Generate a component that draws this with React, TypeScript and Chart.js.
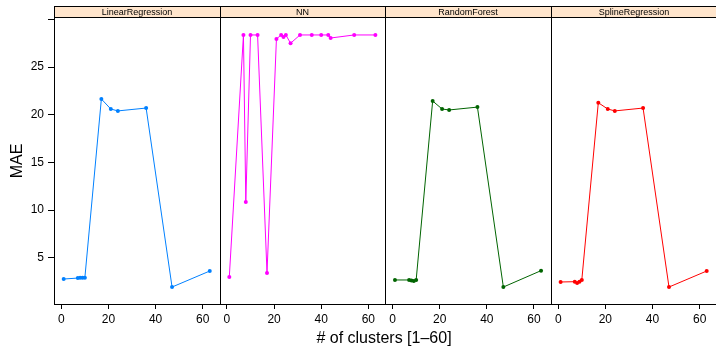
import React, { useEffect, useRef } from 'react';
import { Chart, registerables } from 'chart.js';

Chart.register(...registerables);

// ---- data ----
const panelNames = ['LinearRegression', 'NN', 'RandomForest', 'SplineRegression'];
const panelColors = ['#0080ff', '#ff00ff', '#006400', '#ff0000'];

const lrX = [1, 7, 8, 9, 10, 17, 21, 24, 36, 47, 63];
const lrY = [2.76, 2.86, 2.9, 2.9, 2.9, 21.65, 20.6, 20.4, 20.7, 1.92, 3.6];

const nnX = [1, 7, 8, 10, 13, 17, 21, 23, 24, 25, 27, 31, 36, 40, 43, 44, 54, 63];
const nnY = [2.97, 28.37, 10.84, 28.37, 28.37, 3.4, 27.95, 28.37, 28.16, 28.37, 27.5, 28.37, 28.37, 28.37, 28.37, 28.05, 28.37, 28.37];

const rfX = [1, 7, 8, 9, 10, 17, 21, 24, 36, 47, 63];
const rfY = [2.66, 2.66, 2.6, 2.55, 2.66, 21.44, 20.6, 20.5, 20.8, 1.92, 3.64];

const spX = [1, 7, 8, 9, 10, 17, 21, 24, 36, 47, 63];
const spY = [2.45, 2.48, 2.34, 2.48, 2.66, 21.26, 20.6, 20.4, 20.7, 1.92, 3.6];

const xTickValues = [0, 20, 40, 60];
const yTickValues = [5, 10, 15, 20, 25, 30];
const yTickLabels = ['5', '10', '15', '20', '25', ''];

const xTitle = '# of clusters [1\u201360]';
const yTitle = 'MAE';

// ---- panel layout (in x-data units) ----
const X_MIN = -3.1;
const PANEL_W = 70.3;
const X_MAX_VISIBLE = 3 * PANEL_W + 66.1;
const Y_MIN = 0.14;
const Y_MAX = 30.15;

const FONT = "'Liberation Sans', Arial, Helvetica, sans-serif";

const seriesX = [lrX, nnX, rfX, spX];
const seriesY = [lrY, nnY, rfY, spY];

const panelPlugin = {
  id: 'latticePanels',
  afterDatasetsDraw(chart: any) {
    const { ctx, chartArea, scales } = chart;
    const xs = scales.x;
    const stripTop = 6;
    ctx.save();
    for (let p = 0; p < panelNames.length; p++) {
      const l = Math.round(xs.getPixelForValue(p * PANEL_W + X_MIN));
      const r = Math.round(xs.getPixelForValue((p + 1) * PANEL_W + X_MIN));
      // strip
      ctx.fillStyle = '#ffe5cc';
      ctx.fillRect(l, stripTop, r - l, chartArea.top - stripTop);
      ctx.strokeStyle = '#000';
      ctx.lineWidth = 1;
      ctx.beginPath();
      ctx.moveTo(l, stripTop + 0.5);
      ctx.lineTo(r, stripTop + 0.5);
      ctx.moveTo(l, chartArea.top - 0.5);
      ctx.lineTo(r, chartArea.top - 0.5);
      ctx.moveTo(l, chartArea.bottom + 0.5);
      ctx.lineTo(r, chartArea.bottom + 0.5);
      ctx.stroke();
      ctx.beginPath();
      ctx.moveTo(l + 0.5, stripTop);
      ctx.lineTo(l + 0.5, chartArea.bottom + 1);
      ctx.moveTo(r + 0.5, stripTop);
      ctx.lineTo(r + 0.5, chartArea.bottom + 1);
      ctx.stroke();
      // strip text
      ctx.fillStyle = '#000';
      ctx.font = `9px ${FONT}`;
      ctx.textAlign = 'center';
      ctx.textBaseline = 'middle';
      ctx.fillText(panelNames[p], (l + r) / 2, (stripTop + chartArea.top) / 2 + 0.5);
    }
    ctx.restore();
  },
};

export default function App() {
  const ref = useRef<HTMLCanvasElement | null>(null);

  useEffect(() => {
    if (!ref.current) return;
    const datasets = panelNames.map((name, p) => ({
      label: name,
      data: seriesX[p].map((x, i) => ({ x: p * PANEL_W + x, y: seriesY[p][i] })),
      borderColor: panelColors[p],
      backgroundColor: panelColors[p],
      borderWidth: 1,
      pointRadius: 2,
      pointBorderWidth: 0,
      pointHoverRadius: 2,
      showLine: true,
      tension: 0,
    }));

    const chart = new Chart(ref.current, {
      type: 'scatter',
      data: { datasets },
      options: {
        animation: false,
        responsive: false,
        devicePixelRatio: 1,
        layout: { padding: { top: 18, left: 0, right: 0, bottom: 0 } },
        plugins: {
          legend: { display: false },
          tooltip: { enabled: false },
          title: { display: false },
        },
        scales: {
          x: {
            type: 'linear',
            min: X_MIN,
            max: X_MAX_VISIBLE,
            afterBuildTicks: (scale: any) => {
              const t: any[] = [];
              for (let p = 0; p < panelNames.length; p++) {
                xTickValues.forEach((v) => t.push({ value: p * PANEL_W + v }));
              }
              scale.ticks = t;
            },
            afterFit: (scale: any) => {
              scale.height = 42;
            },
            ticks: {
              autoSkip: false,
              maxRotation: 0,
              padding: 3,
              color: '#000',
              font: { family: FONT, size: 12 },
              callback: (value: any) => {
                const v = Number(value);
                const p = Math.floor((v - X_MIN) / PANEL_W);
                return String(Math.round(v - p * PANEL_W));
              },
            },
            grid: {
              display: true,
              drawOnChartArea: false,
              drawTicks: true,
              tickLength: 5,
              color: '#000',
            },
            border: { display: false },
            title: {
              display: true,
              text: xTitle,
              color: '#000',
              font: { family: FONT, size: 16 },
              padding: { top: 0, bottom: -2 },
            },
          },
          y: {
            type: 'linear',
            min: Y_MIN,
            max: Y_MAX,
            afterBuildTicks: (scale: any) => {
              scale.ticks = yTickValues.map((v) => ({ value: v }));
            },
            afterFit: (scale: any) => {
              scale.width = 54;
            },
            ticks: {
              autoSkip: false,
              padding: 4,
              color: '#000',
              font: { family: FONT, size: 12 },
              callback: (value: any) => {
                const i = yTickValues.indexOf(Number(value));
                return i >= 0 ? yTickLabels[i] : '';
              },
            },
            grid: {
              display: true,
              drawOnChartArea: false,
              drawTicks: true,
              tickLength: 6,
              color: '#000',
            },
            border: { display: false },
            title: {
              display: true,
              text: yTitle,
              color: '#000',
              font: { family: FONT, size: 16 },
              padding: { top: 8, bottom: 0 },
            },
          },
        },
      },
      plugins: [panelPlugin],
    });
    return () => chart.destroy();
  }, []);

  return (
    <div style={{ position: 'absolute', left: 0, top: 0, width: 716, height: 346, background: '#fff' }}>
      <canvas ref={ref} width={716} height={346} style={{ width: 716, height: 346, display: 'block' }} />
    </div>
  );
}
